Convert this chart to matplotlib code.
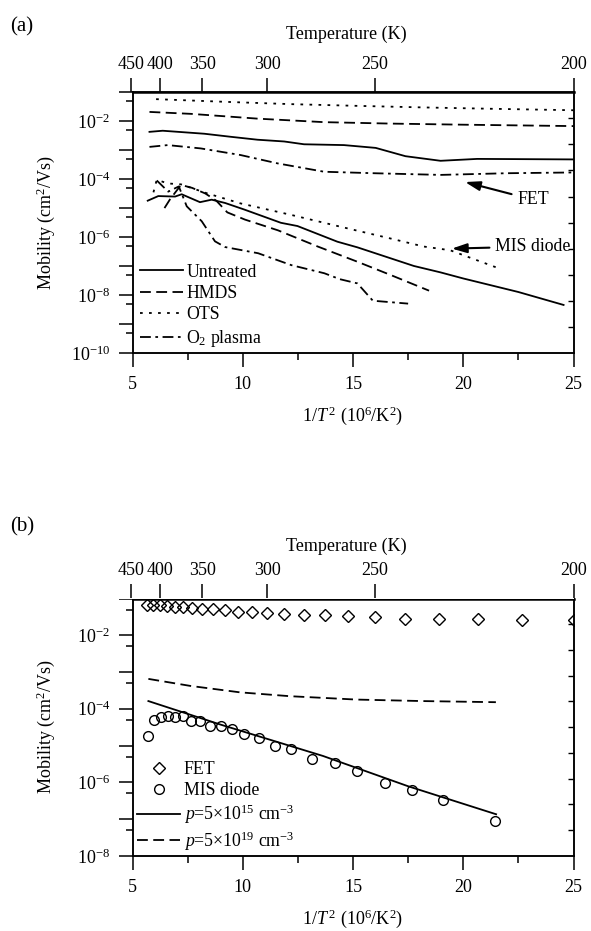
import numpy as np
import matplotlib
matplotlib.use('Agg')
import matplotlib.pyplot as plt
from matplotlib.ticker import FixedLocator, FuncFormatter, NullLocator, NullFormatter
from matplotlib.lines import Line2D

plt.rcParams.update({
    'font.family': ['Liberation Serif', 'DejaVu Serif'],
    'mathtext.fontset': 'custom',
    'mathtext.rm': 'Liberation Serif',
    'mathtext.it': 'Liberation Serif:italic',
    'mathtext.bf': 'Liberation Serif:bold',
    'font.size': 13,
    'axes.linewidth': 1.1,
})

# ---------------- data: panel (a) ----------------
# FET mobility (cm^2/Vs) vs 1/T^2 (10^6/K^2)
fet_untreated_x = [5.77, 6.37, 8.26, 9.46, 10.67, 11.88, 12.78, 14.59, 16.03, 17.38, 18.97, 20.63, 25.0]
fet_untreated_y = [4.3e-3, 4.7e-3, 3.7e-3, 2.9e-3, 2.3e-3, 2.0e-3, 1.6e-3, 1.5e-3, 1.2e-3, 6.2e-4, 4.3e-4, 5.0e-4, 4.8e-4]
fet_hmds_x = [5.77, 7.65, 10.67, 13.69, 16.7, 20.0, 25.0]
fet_hmds_y = [2.1e-2, 1.8e-2, 1.23e-2, 9.3e-3, 8.3e-3, 7.6e-3, 6.8e-3]
fet_ots_x = [6.07, 9.16, 12.18, 15.2, 18.21, 21.23, 25.0]
fet_ots_y = [5.8e-2, 4.7e-2, 3.9e-2, 3.4e-2, 3.0e-2, 2.7e-2, 2.4e-2]
fet_o2_x = [5.77, 6.6, 8.1, 9.9, 11.58, 13.69, 15.95, 18.97, 21.98, 25.0]
fet_o2_y = [1.3e-3, 1.5e-3, 1.15e-3, 6.8e-4, 3.5e-4, 1.8e-4, 1.6e-4, 1.4e-4, 1.6e-4, 1.7e-4]

# MIS diode mobility
mis_untreated_x = [5.69, 6.17, 6.93, 7.23, 8.06, 8.59, 9.2, 10.07, 11.73, 12.48, 14.29, 15.2, 17.76, 18.97, 20.0, 22.5, 24.55]
mis_untreated_y = [1.8e-5, 2.6e-5, 2.5e-5, 3.0e-5, 1.6e-5, 1.95e-5, 1.5e-5, 8.9e-6, 3.1e-6, 2.4e-6, 6.9e-7, 4.4e-7, 1.0e-7, 6.0e-8, 3.7e-8, 1.26e-8, 4.5e-9]
mis_hmds_x = [6.45, 6.7, 7.2, 7.7, 8.3, 8.8, 9.3, 10.1, 11.6, 13.4, 15.2, 16.7, 18.45]
mis_hmds_y = [1.0e-5, 2.0e-5, 6.3e-5, 5.0e-5, 3.2e-5, 1.8e-5, 7.1e-6, 4.0e-6, 1.7e-6, 4.7e-7, 1.4e-7, 4.9e-8, 1.4e-8]
mis_ots_x = [5.95, 6.1, 6.6, 7.2, 8.4, 9.9, 12.2, 14.4, 16.7, 18.2, 19.4, 21.5]
mis_ots_y = [3.5e-5, 9.5e-5, 7.1e-5, 6.6e-5, 3.2e-5, 1.45e-5, 5.8e-6, 2.3e-6, 8.9e-7, 4.7e-7, 3.5e-7, 8.9e-8]
mis_o2_x = [6.1, 6.62, 7.1, 7.46, 8.14, 8.74, 9.2, 10.7, 12.2, 13.7, 14.4, 15.2, 15.9, 17.5]
mis_o2_y = [9.0e-5, 3.7e-5, 5.6e-5, 1.15e-5, 3.5e-6, 7.1e-7, 4.5e-7, 2.75e-7, 1.07e-7, 5.6e-8, 3.5e-8, 2.5e-8, 6.3e-9, 5.0e-9]

labels_a = ['Untreated', 'HMDS', 'OTS', r'O$_2$ plasma']

# ---------------- data: panel (b) ----------------
fet_b_x = [5.67, 5.95, 6.25, 6.57, 6.93, 7.30, 7.72, 8.16, 8.65, 9.18, 9.77, 10.41,
           11.11, 11.89, 12.76, 13.72, 14.79, 16.0, 17.36, 18.90, 20.66, 22.68, 25.0]
fet_b_y = [6.5e-2, 6.5e-2, 6.5e-2, 6.2e-2, 6.0e-2, 5.8e-2, 5.5e-2, 5.2e-2, 5.1e-2, 4.8e-2, 4.4e-2, 4.2e-2,
           4.1e-2, 3.9e-2, 3.6e-2, 3.5e-2, 3.3e-2, 3.1e-2, 2.8e-2, 2.8e-2, 2.7e-2, 2.6e-2, 2.6e-2]
mis_b_x = [5.72, 5.99, 6.30, 6.60, 6.93, 7.31, 7.65, 8.06, 8.51, 9.0, 9.49, 10.07, 10.74,
           11.45, 12.2, 13.15, 14.17, 15.18, 16.43, 17.68, 19.09, 21.43]
mis_b_y = [1.8e-5, 5.1e-5, 6.0e-5, 6.3e-5, 6.0e-5, 6.3e-5, 4.7e-5, 4.7e-5, 3.5e-5, 3.5e-5, 2.9e-5, 2.1e-5, 1.6e-5,
           9.8e-6, 8.1e-6, 4.2e-6, 3.3e-6, 2.0e-6, 9.5e-7, 6.0e-7, 3.3e-7, 8.9e-8]
fit15_x = [5.72, 9.0, 13.64, 17.5, 21.49]
fit15_y = [1.62e-4, 3.7e-5, 5.2e-6, 7.8e-7, 1.35e-7]
fit19_x = [5.72, 7.61, 9.87, 12.13, 15.15, 18.16, 21.48]
fit19_y = [6.5e-4, 4.2e-4, 2.8e-4, 2.2e-4, 1.78e-4, 1.62e-4, 1.51e-4]

labels_b = ['FET', 'MIS diode', r'$p$=5×10$^{15}$ cm$^{-3}$', r'$p$=5×10$^{19}$ cm$^{-3}$']

# axis ticks
x_major = [5, 10, 15, 20, 25]
x_minor = [7.5, 12.5, 17.5, 22.5]
temp_ticks = [450, 400, 350, 300, 250, 200]

LS_DASH = (0, (6, 3))
LS_DOT = (0, (1.5, 3.5))
LS_DASHDOT = (0, (6, 2.5, 1.5, 2.5))
LW = 1.3
TXT = 12.8

FIG_W, FIG_H = 591, 931
fig = plt.figure(figsize=(FIG_W / 100, FIG_H / 100), dpi=100)


def rect(l, r, t, b):
    return [l / FIG_W, 1 - b / FIG_H, (r - l) / FIG_W, (b - t) / FIG_H]


def fmt_log(v, pos):
    e = int(round(np.log10(v)))
    if e % 2 == 0:
        return r'$10^{%d}$' % e
    return ''


def fwd(x):
    x = np.asarray(x, dtype=float)
    return 1e3 / np.sqrt(np.clip(x, 1e-6, None))


def inv(T):
    T = np.asarray(T, dtype=float)
    return 1e6 / np.clip(T, 1e-6, None) ** 2


def make_panel(l, r, t, b, emin, emax, top_pad):
    ax = fig.add_axes(rect(l, r, t, b))
    ax.set_yscale('log')
    ax.set_xlim(5, 25)
    ax.set_ylim(10.0 ** emin, 10.0 ** emax)
    ax.xaxis.set_major_locator(FixedLocator(x_major))
    ax.xaxis.set_minor_locator(FixedLocator(x_minor))
    ax.yaxis.set_major_locator(FixedLocator([10.0 ** e for e in range(emin, emax + 1)]))
    ax.yaxis.set_minor_locator(FixedLocator([5 * 10.0 ** e for e in range(emin, emax)]))
    ax.yaxis.set_major_formatter(FuncFormatter(fmt_log))
    ax.yaxis.set_minor_formatter(NullFormatter())
    ax.tick_params(which='major', direction='out', length=10, width=1.1, labelsize=13)
    ax.tick_params(which='minor', direction='out', length=5, width=1.1)
    ax.tick_params(axis='x', which='major', pad=7)
    ax.tick_params(axis='y', which='major', pad=6)
    ax.set_xlabel(r'1/$T^{\,2}$ (10$^6$/K$^2$)', fontsize=13, labelpad=8)
    ax.set_ylabel(r'Mobility (cm$^2$/Vs)', fontsize=13)
    ax.yaxis.set_label_coords(-0.172, 0.5)
    ax.spines['top'].set_linewidth(1.8)
    # right inner ticks
    axr = ax.twinx()
    axr.set_ylim(0, 10)
    axr.yaxis.set_major_locator(FixedLocator(list(range(1, 10))))
    axr.yaxis.set_minor_locator(NullLocator())
    axr.tick_params(axis='y', direction='in', length=4, width=1.0, labelright=False)
    # top temperature axis on a helper axes extended slightly to the left
    ext = 14.0
    ppu = (r - l) / 20.0
    axt = fig.add_axes(rect(l - ext, r, t, b))
    axt.set_xlim(5 - ext / ppu, 25)
    axt.patch.set_visible(False)
    for sp in axt.spines.values():
        sp.set_visible(False)
    axt.xaxis.set_visible(False)
    axt.yaxis.set_visible(False)
    sec = axt.secondary_xaxis('top', functions=(fwd, inv))
    sec.set_xticks(temp_ticks)
    sec.xaxis.set_minor_locator(NullLocator())
    for sp in sec.spines.values():
        sp.set_visible(False)
    sec.tick_params(direction='out', length=10, width=1.1, labelsize=13, pad=4)
    sec.set_xlabel('Temperature (K)', fontsize=13, labelpad=top_pad)
    return ax


# ---------------- panel (a) ----------------
axa = make_panel(132.5, 573.5, 92.3, 352.8, -10, -1, 12)
styles = ['-', LS_DASH, LS_DOT, LS_DASHDOT]
fet_sets = [(fet_untreated_x, fet_untreated_y), (fet_hmds_x, fet_hmds_y),
            (fet_ots_x, fet_ots_y), (fet_o2_x, fet_o2_y)]
mis_sets = [(mis_untreated_x, mis_untreated_y), (mis_hmds_x, mis_hmds_y),
            (mis_ots_x, mis_ots_y), (mis_o2_x, mis_o2_y)]
handles = []
for (fx, fy), (mx, my), ls, lab in zip(fet_sets, mis_sets, styles, labels_a):
    axa.plot(fx, fy, color='k', lw=LW, ls=ls)
    axa.plot(mx, my, color='k', lw=LW, ls=ls)
    handles.append(Line2D([], [], color='k', lw=LW, ls=ls, label=lab))
axa.legend(handles=handles, loc='lower left', bbox_to_anchor=(0.017, 0.015),
           frameon=False, fontsize=TXT,
           handlelength=2.4, handletextpad=0.2, labelspacing=0.25,
           borderpad=0.0, borderaxespad=0.0)

arrow_kw = dict(arrowstyle='-|>,head_length=0.7,head_width=0.22', color='k', lw=1.5,
                shrinkA=2, shrinkB=0)
axa.annotate('FET', xy=(20.08, 10 ** -4.10), xytext=(22.44, 10 ** -4.71),
             ha='left', va='center', fontsize=TXT, arrowprops=arrow_kw)
axa.annotate('MIS diode', xy=(19.48, 10 ** -6.40), xytext=(21.44, 10 ** -6.33),
             ha='left', va='center', fontsize=TXT, arrowprops=arrow_kw)
fig.text(10 / FIG_W, 1 - 27 / FIG_H, '(a)', fontsize=15, va='center', ha='left')

# ---------------- panel (b) ----------------
axb = make_panel(132.5, 573.5, 598.5, 855.8, -8, -1, 8)
axb.plot(fet_b_x, fet_b_y, ls='none', marker='D', ms=6.2, mfc='none', mec='k', mew=1.0, label=labels_b[0])
axb.plot(mis_b_x, mis_b_y, ls='none', marker='o', ms=7, mfc='none', mec='k', mew=1.0, label=labels_b[1])
axb.plot(fit15_x, fit15_y, color='k', lw=LW, ls='-', label=labels_b[2])
axb.plot(fit19_x, fit19_y, color='k', lw=LW, ls=LS_DASH, label=labels_b[3])
axb.legend(loc='lower left', bbox_to_anchor=(0.011, 0.012), frameon=False, fontsize=TXT,
           handlelength=2.4, handletextpad=0.2, labelspacing=0.2,
           borderpad=0.0, borderaxespad=0.0)
fig.text(10 / FIG_W, 1 - 527 / FIG_H, '(b)', fontsize=15, va='center', ha='left')

fig.savefig('out.png', dpi=100)
